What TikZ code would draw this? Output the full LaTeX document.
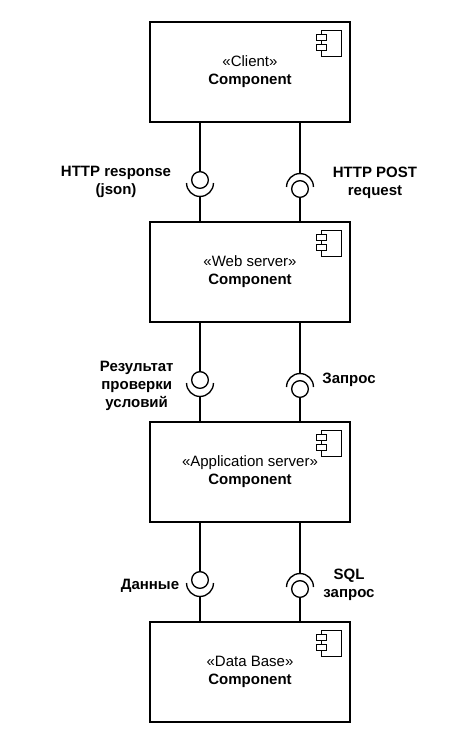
\documentclass[tikz,border=0pt]{standalone}
\usepackage{fontspec}
\setmainfont{Liberation Sans}
\begin{document}
\begin{tikzpicture}[x=0.75pt,y=-0.75pt,line width=1pt,
  comp/.style={draw,minimum width=150pt,minimum height=75pt,inner sep=0pt,align=center,font=\fontsize{11.25}{13.5}\selectfont},
  ball/.style={draw,circle,minimum size=12.5pt,inner sep=0pt},
  lbl/.style={align=center,inner sep=0pt,font=\fontsize{11.25}{13.5}\selectfont\bfseries}]
\fill[white] (0,0) rectangle (454,746);
\useasboundingbox (0,0) rectangle (454,746);
\node[comp] (c1) at (250,72) {«Client»\\\textbf{Component}};
\node[comp] (c2) at (250,272) {«Web server»\\\textbf{Component}};
\node[comp] (c3) at (250,472) {«Application server»\\\textbf{Component}};
\node[comp] (c4) at (250,672) {«Data Base»\\\textbf{Component}};
\foreach \c in {c1,c2,c3,c4}{
  \draw ([shift={(-29,9)}]\c.north east) rectangle ([shift={(-9,35)}]\c.north east);
  \draw[fill=white] ([shift={(-34,13)}]\c.north east) rectangle ([shift={(-24,19)}]\c.north east);
  \draw[fill=white] ([shift={(-34,23)}]\c.north east) rectangle ([shift={(-24,29)}]\c.north east);
}
\foreach \a/\b/\o in {c1/c2/0,c2/c3/200,c3/c4/400}{
  % left: ball above, socket below
  \node[ball] (L\a) at (200,180+\o) {};
  \draw (\a.south -| L\a) -- (L\a.north);
  \coordinate (LS\a) at (200,183+\o);
  \draw ([xshift=10.1pt]LS\a) arc[start angle=0,end angle=-180,radius=10.1pt];
  \coordinate (LB\a) at (200,196.5+\o);
  \draw (LB\a) -- (\b.north -| LB\a);
  % right: socket above, ball below
  \coordinate (RS\a) at (300,187+\o);
  \draw ([xshift=10.1pt]RS\a) arc[start angle=0,end angle=180,radius=10.1pt];
  \coordinate (RT\a) at (300,173.5+\o);
  \draw (\a.south -| RT\a) -- (RT\a);
  \node[ball] (R\a) at (300,189+\o) {};
  \draw (R\a.south) -- (\b.north -| R\a);
}
\node[lbl] (t1) at (116,181.5) {HTTP response\\(json)};
\node[lbl] (t2) at (375,183) {HTTP POST\\request};
\node[lbl] (t3) at (136.7,385.5) {Результат\\проверки\\условий};
\node[lbl] (t4) at (349,379.5) {Запрос};
\node[lbl] (t5) at (150,585.5) {Данные};
\node[lbl] (t6) at (349,585) {SQL\\запрос};
\end{tikzpicture}
\end{document}
